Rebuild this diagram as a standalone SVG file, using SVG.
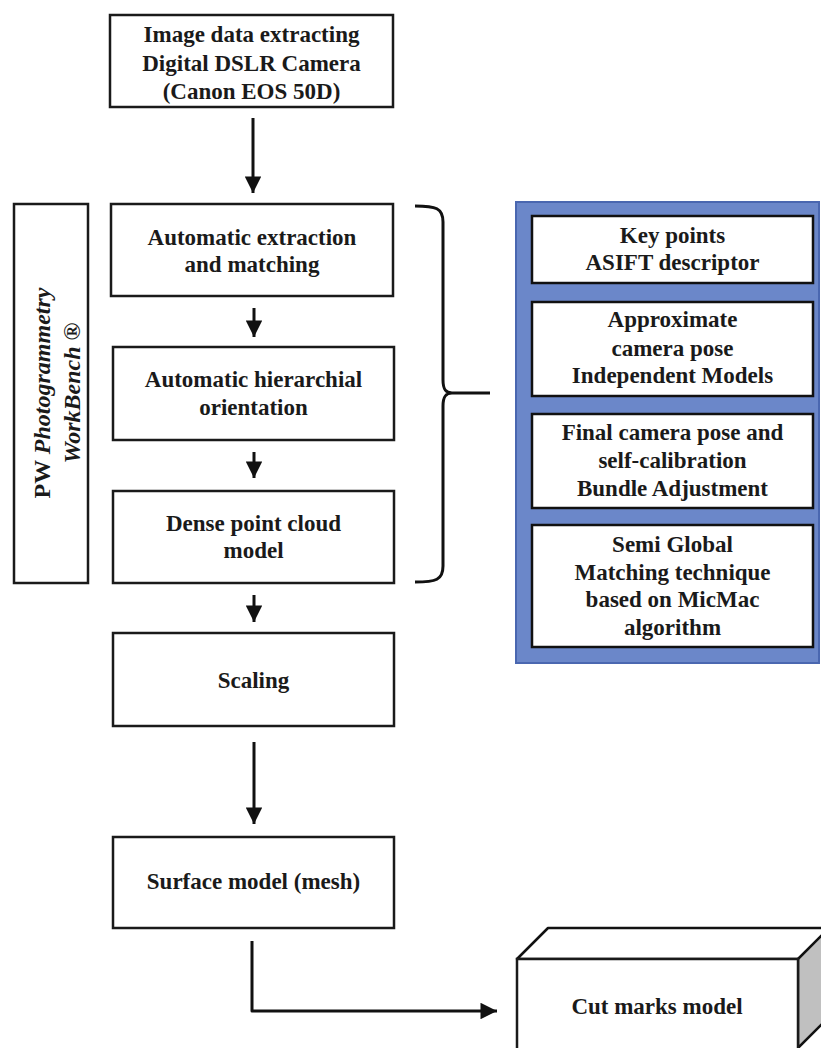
<svg xmlns="http://www.w3.org/2000/svg" width="821" height="1048" viewBox="0 0 821 1048">
<style>
.box{fill:#fff;stroke:#1a1a1a;stroke-width:2.5}
.ibox{fill:#fff;stroke:#111;stroke-width:2.5}
.t{font-family:"Liberation Serif","Times New Roman",serif;font-weight:bold;font-size:23px;fill:#1a1a1a;text-anchor:middle}
.ln{fill:none;stroke:#111;stroke-width:3}
.vt{font-family:"Liberation Serif","Times New Roman",serif;font-weight:bold;font-size:24px;fill:#1a1a1a;text-anchor:middle}
</style>
<defs>
<marker id="ah" viewBox="0 0 10 10" refX="10" refY="5" markerWidth="6" markerHeight="5.5" markerUnits="strokeWidth" orient="auto">
<path d="M0,0 L10,5 L0,10 Z" fill="#111"/>
</marker>
</defs>
<rect width="821" height="1048" fill="#fff"/>

<g id="n-image">
<rect class="box" x="110" y="15" width="283" height="92"/>
<text class="t" x="251.5" y="42">Image data extracting</text>
<text class="t" x="251.5" y="71">Digital DSLR Camera</text>
<text class="t" x="251.5" y="99">(Canon EOS 50D)</text>
</g>

<g id="n-pw">
<rect class="box" x="14" y="204" width="74" height="379"/>
<text class="vt" transform="translate(50,393) rotate(-90)">PW <tspan font-style="italic">Photogrammetry</tspan></text>
<text class="vt" font-style="italic" transform="translate(80,393) rotate(-90)">WorkBench ®</text>
</g>

<g id="n-extract">
<rect class="box" x="111" y="204" width="282" height="92"/>
<text class="t" x="252" y="245">Automatic extraction</text>
<text class="t" x="252" y="272">and matching</text>
</g>

<g id="n-orient">
<rect class="box" x="113" y="347" width="281" height="93"/>
<text class="t" x="253.5" y="387">Automatic hierarchial</text>
<text class="t" x="253.5" y="415">orientation</text>
</g>

<g id="n-dense">
<rect class="box" x="113" y="491" width="281" height="92"/>
<text class="t" x="253.5" y="531">Dense point cloud</text>
<text class="t" x="253.5" y="558">model</text>
</g>

<g id="n-scaling">
<rect class="box" x="113" y="633" width="281" height="93"/>
<text class="t" x="253.5" y="688">Scaling</text>
</g>

<g id="n-surface">
<rect class="box" x="113" y="837" width="281" height="91"/>
<text class="t" x="253.5" y="889">Surface model (mesh)</text>
</g>

<g id="n-cut">
<polygon points="517,959 548,928 840,928 798,959" fill="#fff" stroke="#111" stroke-width="2.5" stroke-linejoin="round"/>
<polygon points="798,959 829,928 829,1017 798,1048" fill="#c0c0c0" stroke="#111" stroke-width="2.5" stroke-linejoin="round"/>
<rect class="box" x="517" y="959" width="281" height="92"/>
<text class="t" x="657" y="1014">Cut marks model</text>
</g>

<g id="n-panel">
<rect x="516" y="202" width="303" height="461" fill="#6b87c9" stroke="#4a67b0" stroke-width="2"/>
<g id="n-keypoints">
<rect class="ibox" x="532" y="216" width="281" height="67"/>
<text class="t" x="672.5" y="243">Key points</text>
<text class="t" x="672.5" y="270">ASIFT descriptor</text>
</g>
<g id="n-approx">
<rect class="ibox" x="532" y="302" width="281" height="94"/>
<text class="t" x="672.5" y="327">Approximate</text>
<text class="t" x="672.5" y="356">camera pose</text>
<text class="t" x="672.5" y="383">Independent Models</text>
</g>
<g id="n-final">
<rect class="ibox" x="532" y="414" width="281" height="94"/>
<text class="t" x="672.5" y="440">Final camera pose and</text>
<text class="t" x="672.5" y="468">self-calibration</text>
<text class="t" x="672.5" y="496">Bundle Adjustment</text>
</g>
<g id="n-sgm">
<rect class="ibox" x="532" y="525" width="281" height="122"/>
<text class="t" x="672.5" y="552">Semi Global</text>
<text class="t" x="672.5" y="580">Matching technique</text>
<text class="t" x="672.5" y="607">based on MicMac</text>
<text class="t" x="672.5" y="635">algorithm</text>
</g>
</g>

<g id="connectors">
<line class="ln" x1="253" y1="118" x2="253" y2="193" marker-end="url(#ah)"/>
<line class="ln" x1="254" y1="308" x2="254" y2="337" marker-end="url(#ah)"/>
<line class="ln" x1="254" y1="452" x2="254" y2="478" marker-end="url(#ah)"/>
<line class="ln" x1="254" y1="595" x2="254" y2="622" marker-end="url(#ah)"/>
<line class="ln" x1="254" y1="742" x2="254" y2="824" marker-end="url(#ah)"/>
<polyline class="ln" points="252,941 252,1011 497,1011" stroke-linejoin="round" marker-end="url(#ah)"/>
<path class="ln" d="M415,206 C436,206 443,208 443,222 L443,380 C443,390 446,393 452,393 L490,393 M452,393 C446,393 443,396 443,406 L443,566 C443,580 436,582 415,582"/>
</g>
</svg>
